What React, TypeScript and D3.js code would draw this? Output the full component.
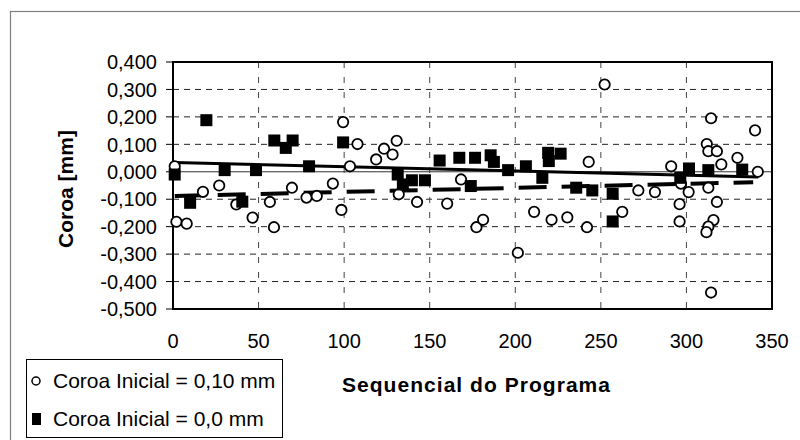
import React from "react";
import * as d3 from "d3";

// Series: "Coroa Inicial = 0,10 mm" (open circles)
const circleX = [1, 2, 8, 17.5, 27, 37, 46.5, 56.6, 59, 69.5, 78, 84, 93.4, 98.4, 99.4, 103.4, 107.8, 118.7, 123.3, 128.3, 130.7, 131.9, 142.6, 160.2, 168.3, 177.3, 181.2, 201.5, 211, 221.2, 230.4, 242.9, 241.9, 252.2, 262.5, 271.9, 281.6, 291.1, 296.8, 301.3, 296, 296, 314.4, 311.9, 312.8, 317.8, 320.4, 329.8, 340.1, 341.7, 312.8, 317.8, 315.8, 312.8, 311.7, 314.4];
const circleY = [0.02, -0.182, -0.189, -0.073, -0.05, -0.119, -0.167, -0.11, -0.202, -0.058, -0.094, -0.088, -0.043, -0.139, 0.181, 0.02, 0.101, 0.045, 0.084, 0.063, 0.113, -0.082, -0.11, -0.116, -0.028, -0.202, -0.175, -0.295, -0.146, -0.175, -0.166, 0.036, -0.202, 0.318, -0.146, -0.068, -0.074, 0.02, -0.043, -0.074, -0.118, -0.181, 0.195, 0.101, 0.075, 0.075, 0.027, 0.051, 0.151, 0.0, -0.058, -0.11, -0.176, -0.2, -0.22, -0.44];

// Series: "Coroa Inicial = 0,0 mm" (filled squares)
const squareX = [1, 10, 19.5, 30.2, 40.5, 48.5, 59.2, 65.9, 69.9, 79.5, 99.4, 131.3, 134.3, 139.6, 147.2, 155.8, 167.3, 176.5, 185.6, 187.5, 174, 195.8, 206.2, 219.2, 226.5, 219.6, 215.8, 235.6, 245, 256.9, 256.9, 296.4, 301.5, 312.8, 332.6];
const squareY = [-0.01, -0.113, 0.188, 0.006, -0.109, 0.006, 0.114, 0.087, 0.114, 0.02, 0.107, -0.01, -0.046, -0.031, -0.031, 0.041, 0.051, 0.051, 0.06, 0.036, -0.052, 0.006, 0.02, 0.069, 0.066, 0.039, -0.022, -0.058, -0.068, -0.08, -0.181, -0.022, 0.012, 0.006, 0.008];

// Linear trend lines (endpoints)
const trendCirclesX = [1, 342];
const trendCirclesY = [0.034, -0.019];
const trendSquaresX = [1, 339];
const trendSquaresY = [-0.088, -0.038];

const xTicks = [0, 50, 100, 150, 200, 250, 300, 350];
const yTicks = [0.4, 0.3, 0.2, 0.1, 0, -0.1, -0.2, -0.3, -0.4, -0.5];

const legendLabels = ["Coroa Inicial = 0,10 mm", "Coroa Inicial = 0,0 mm"];
const yTitle = "Coroa [mm]";
const xTitle = "Sequencial do Programa";

const locale = d3.formatLocale({
  decimal: ",",
  thousands: ".",
  grouping: [3],
  currency: ["", ""],
  minus: "-",
});
const fmtY = locale.format(".3f");

export default function App() {
  const W = 800;
  const H = 440;
  const x = d3.scaleLinear().domain([0, 350]).range([173, 772]);
  const y = d3.scaleLinear().domain([0.4, -0.5]).range([62, 309]);
  const font = "'Liberation Sans', Arial, sans-serif";

  const line = d3
    .line<[number, number]>()
    .x((d) => x(d[0]))
    .y((d) => y(d[1]));

  const tC: [number, number][] = trendCirclesX.map((v, i) => [v, trendCirclesY[i]]);
  const tS: [number, number][] = trendSquaresX.map((v, i) => [v, trendSquaresY[i]]);

  const sq = 12;
  const [x0, x1] = x.range();
  const [y0, y1] = y.range();

  return (
    <svg
      width={W}
      height={H}
      style={{ position: "absolute", left: 0, top: 0, background: "#fff" }}
      fontFamily={font}
    >
      <rect x={0} y={0} width={W} height={H} fill="#fff" />
      {/* outer chart frame */}
      <rect x={10.5} y={11.5} width={W} height={H} fill="none" stroke="#808080" strokeWidth={1.2} />

      {/* horizontal gridlines */}
      {yTicks
        .filter((t) => t !== 0.4 && t !== -0.5 && t !== 0)
        .map((t) => (
          <line
            key={"hg" + t}
            x1={x0}
            x2={x1}
            y1={y(t)}
            y2={y(t)}
            stroke="#222"
            strokeWidth={1}
            strokeDasharray="6,5"
          />
        ))}
      {/* vertical gridlines */}
      {xTicks
        .filter((t) => t !== 0 && t !== 350)
        .map((t) => (
          <line
            key={"vg" + t}
            x1={x(t)}
            x2={x(t)}
            y1={y0}
            y2={y1}
            stroke="#444"
            strokeWidth={1}
            strokeDasharray="6,9"
          />
        ))}
      {/* zero axis line */}
      <line x1={x0} x2={x1} y1={y(0)} y2={y(0)} stroke="#333" strokeWidth={1} />

      {/* plot border */}
      <rect x={x0} y={y0} width={x1 - x0} height={y1 - y0} fill="none" stroke="#000" strokeWidth={2} />

      {/* y ticks + labels */}
      {yTicks.map((t) => (
        <g key={"yt" + t}>
          <line x1={x0 - 7} x2={x0} y1={y(t)} y2={y(t)} stroke="#000" strokeWidth={1} />
          <text x={157} y={y(t)} dy="0.36em" textAnchor="end" fontSize={20} fill="#000">
            {fmtY(t)}
          </text>
        </g>
      ))}

      {/* x tick labels */}
      {xTicks.map((t) => (
        <text key={"xt" + t} x={x(t)} y={348} textAnchor="middle" fontSize={20} fill="#000">
          {t}
        </text>
      ))}

      {/* trend lines */}
      <path d={line(tC) || ""} fill="none" stroke="#000" strokeWidth={3} />
      <path d={line(tS) || ""} fill="none" stroke="#000" strokeWidth={4} strokeDasharray="28,15" />

      {/* circles */}
      {circleX.map((v, i) => (
        <circle
          key={"c" + i}
          cx={x(v)}
          cy={y(circleY[i])}
          r={5.2}
          fill="#fff"
          stroke="#000"
          strokeWidth={1.8}
        />
      ))}
      {/* squares */}
      {squareX.map((v, i) => (
        <rect
          key={"s" + i}
          x={x(v) - sq / 2}
          y={y(squareY[i]) - sq / 2}
          width={sq}
          height={sq}
          fill="#000"
        />
      ))}

      {/* axis titles */}
      <text
        transform={`translate(73,189) rotate(-90)`}
        textAnchor="middle"
        fontSize={21}
        fontWeight="bold"
        fill="#000"
      >
        {yTitle}
      </text>
      <text
        x={342}
        y={392}
        fontSize={21}
        fontWeight="bold"
        fill="#000"
        textLength={268}
        lengthAdjust="spacing"
      >
        {xTitle}
      </text>

      {/* legend */}
      <rect x={26.5} y={359.5} width={256} height={78} fill="#fff" stroke="#000" strokeWidth={1} />
      <circle cx={36} cy={381} r={4} fill="#fff" stroke="#000" strokeWidth={1.5} />
      <text x={53} y={388} fontSize={21} fill="#000">
        {legendLabels[0]}
      </text>
      <rect x={32} y={413} width={9} height={12} fill="#000" />
      <text x={53} y={426} fontSize={21} fill="#000">
        {legendLabels[1]}
      </text>
    </svg>
  );
}
